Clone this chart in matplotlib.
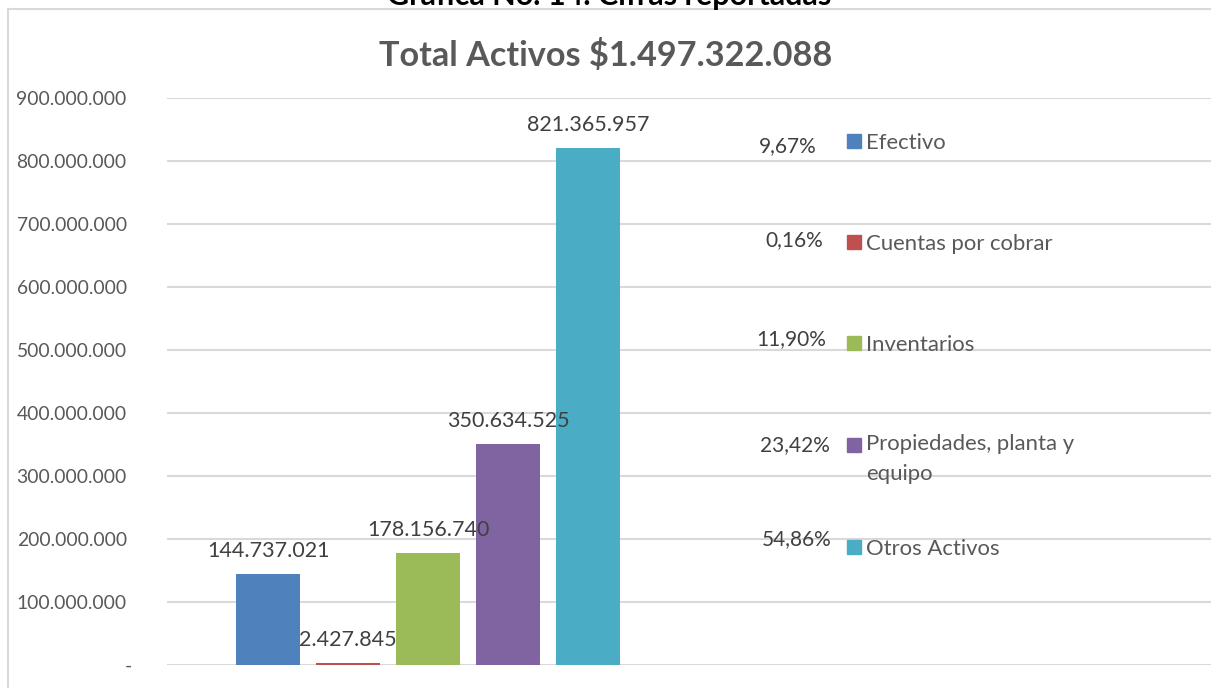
import matplotlib
matplotlib.use("Agg")
import matplotlib.pyplot as plt
from matplotlib.lines import Line2D
from matplotlib.patches import Rectangle

categories = ["Efectivo", "Cuentas por cobrar", "Inventarios",
              "Propiedades, planta y\nequipo", "Otros Activos"]
values = [144737021, 2427845, 178156740, 350634525, 821365957]
value_labels = ["144.737.021", "2.427.845", "178.156.740", "350.634.525", "821.365.957"]
percent_labels = ["9,67%", "0,16%", "11,90%", "23,42%", "54,86%"]
colors = ["#4F81BD", "#C0504D", "#9BBB59", "#8064A2", "#4BACC6"]
yticks = [0, 100000000, 200000000, 300000000, 400000000, 500000000,
          600000000, 700000000, 800000000, 900000000]
ytick_labels = ["-", "100.000.000", "200.000.000", "300.000.000", "400.000.000",
                "500.000.000", "600.000.000", "700.000.000", "800.000.000", "900.000.000"]
title_top = "Gráfica No. 14. Cifras reportadas"
title = "Total Activos $1.497.322.088"

FONT = ["Lato", "DejaVu Sans"]
plt.rcParams["font.family"] = FONT

W, H = 1211, 688
fig = plt.figure(figsize=(W / 100, H / 100), dpi=100)

def fx(px):
    return px / W

def fy(py):
    return 1 - py / H

# axes: left at x=167, bottom (0) at y=665, top (900M) at y=98
ax = fig.add_axes([fx(167), fy(665), 1 - fx(167), fy(98) - fy(665)])
ax.set_ylim(0, 900000000)
ax.set_xlim(-1.2625, 11.775)
x = list(range(len(values)))
ax.bar(x, values, width=0.8, color=colors, zorder=3)

ax.set_yticks(yticks)
ax.set_yticklabels(ytick_labels, fontsize=13.9, color="#595959")
ax.tick_params(axis="y", length=0, pad=29)
ax.get_yticklabels()[0].set_x(0)
ax.set_xticks([])
for s in ax.spines.values():
    s.set_visible(False)
ax.yaxis.grid(True, color="#D9D9D9", linewidth=1.5, zorder=0)
ax.set_axisbelow(True)
# zero label "-" sits a bit further right, as in accounting format
zl = ax.get_yticklabels()[0]
zl.set_visible(False)
ax.annotate(ytick_labels[0], (0, 0), xycoords=("axes fraction", "data"),
            xytext=(-39, 0), textcoords="offset pixels", ha="center",
            va="center_baseline", fontsize=13.9, color="#595959")

for xi, v, lab in zip(x, values, value_labels):
    ax.annotate(lab, (xi, v), xytext=(0, 17), textcoords="offset pixels",
                ha="center", va="baseline", fontsize=15.5, color="#404040", zorder=5)

# legend with percentages
legend_rows = [141, 242, 343, 445, 547]
pct_rows = [144, 238, 337, 443, 537]
pct_right = [817, 823, 826, 830, 832]
for i, (cat, pct, col) in enumerate(zip(categories, percent_labels, colors)):
    yc = legend_rows[i]
    fig.patches.append(Rectangle((fx(847), fy(yc + 7)), fx(14), 14 / H,
                                 transform=fig.transFigure, color=col, figure=fig))
    if "\n" in cat:
        fig.text(fx(866), fy(yc - 11), cat, ha="left", va="top",
                 fontsize=15.9, color="#595959", linespacing=1.6)
    else:
        fig.text(fx(866), fy(yc), cat, ha="left", va="center_baseline",
                 fontsize=15.9, color="#595959")
    fig.text(fx(pct_right[i]), fy(pct_rows[i]), pct, ha="right", va="center_baseline",
             fontsize=15, color="#404040")

# titles
fig.text(fx(606), fy(53), title, ha="center", va="center_baseline",
         fontsize=24.7, fontweight="bold", color="#595959")
fig.text(fx(609), fy(5), title_top, ha="center", va="baseline",
         fontsize=22, fontweight="bold", color="#000000")

# chart frame (top and left border)
fig.add_artist(Line2D([fx(8), 1], [fy(9), fy(9)], color="#D9D9D9", linewidth=1.5,
                      transform=fig.transFigure))
fig.add_artist(Line2D([fx(8), fx(8)], [0, fy(9)], color="#D9D9D9", linewidth=1.5,
                      transform=fig.transFigure))

fig.savefig("out.png", dpi=100)
